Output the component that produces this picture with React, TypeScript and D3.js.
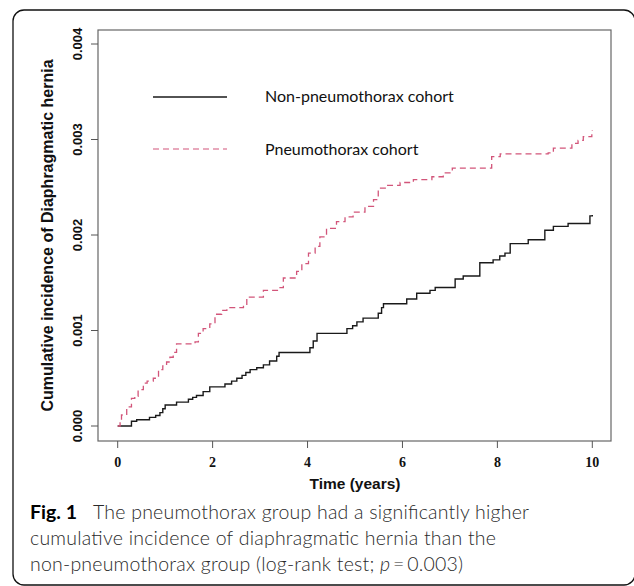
import * as d3 from "d3";
import { useEffect, useMemo, useRef } from "react";

const WIDTH = 634;
const HEIGHT = 586;
// plot box (px in the page)
const BOX = { left: 98, right: 611, top: 30, bottom: 441 };

// Kaplan-Meier style cumulative incidence
const nonTimes = [
  0, 0.29, 0.4, 0.67, 0.8, 0.89, 0.95, 1.0, 1.24, 1.49, 1.58, 1.66, 1.8, 1.94,
  2.26, 2.4, 2.51, 2.62, 2.7, 2.79, 2.93, 3.07, 3.2, 3.35, 3.4, 4.05, 4.12, 4.2,
  4.83, 4.95, 5.04, 5.17, 5.49, 5.56, 5.6, 6.09, 6.3, 6.58, 6.69, 7.11, 7.28,
  7.63, 7.91, 8.05, 8.16, 8.27, 8.65, 9.0, 9.18, 9.49, 9.95, 10,
];
const nonValues = [
  0, 0.00005, 0.000065, 0.00009, 0.00011, 0.00014, 0.00018, 0.00022, 0.00025,
  0.00028, 0.0003, 0.00032, 0.00036, 0.00041, 0.00044, 0.00047, 0.0005,
  0.00053, 0.00056, 0.00059, 0.00061, 0.00064, 0.00068, 0.00073, 0.00077,
  0.00082, 0.00089, 0.00097, 0.00102, 0.00105, 0.00109, 0.00113, 0.00118,
  0.00124, 0.00128, 0.00133, 0.00139, 0.00142, 0.00145, 0.00154, 0.00157,
  0.00171, 0.00174, 0.00178, 0.00181, 0.00191, 0.00195, 0.00205, 0.00209,
  0.00212, 0.0022, 0.00221,
];

const pneuTimes = [
  0, 0.05, 0.08, 0.19, 0.29, 0.36, 0.43, 0.54, 0.62, 0.75, 0.86, 0.95, 1.03,
  1.1, 1.17, 1.24, 1.63, 1.7, 1.8, 1.94, 2.05, 2.19, 2.3, 2.65, 2.72, 3.07,
  3.42, 3.49, 3.77, 3.88, 4.02, 4.16, 4.26, 4.4, 4.61, 4.79, 4.96, 5.21, 5.39,
  5.49, 5.67, 5.95, 6.23, 6.62, 6.86, 7.05, 7.88, 8.06, 9.07, 9.18, 9.57, 9.7,
  9.81, 9.99, 10,
];
const pneuValues = [
  0, 0.00005, 0.000115, 0.0002, 0.00029, 0.00031, 0.00038, 0.00045, 0.00047,
  0.0005, 0.00059, 0.00063, 0.00067, 0.00072, 0.00077, 0.00086, 0.00088,
  0.00097, 0.00102, 0.00107, 0.00117, 0.00121, 0.00124, 0.00126, 0.00135,
  0.00142, 0.00145, 0.00155, 0.00162, 0.0017, 0.00181, 0.00188, 0.00198,
  0.00207, 0.00214, 0.00219, 0.00224, 0.0023, 0.00237, 0.00249, 0.00252,
  0.00255, 0.00258, 0.00261, 0.00265, 0.0027, 0.00282, 0.00285, 0.00286,
  0.00291, 0.00296, 0.00299, 0.00303, 0.00309, 0.0031,
];

const xTicks = [0, 2, 4, 6, 8, 10];
const yTicks = [0, 0.001, 0.002, 0.003, 0.004];
const legendLabels = ["Non-pneumothorax cohort", "Pneumothorax cohort"];
const legendColors = ["#1a1a1a", "#d2557a"];

const TICK = 7;

export default function App() {
  const axisRef = useRef<SVGGElement | null>(null);

  const xScale = useMemo(
    () => d3.scaleLinear().domain([0, 10]).range([117.7, 592.3]),
    []
  );
  const yScale = useMemo(
    () => d3.scaleLinear().domain([0, 0.004]).range([426, 44]),
    []
  );

  const line = d3
    .line<[number, number]>()
    .x((d) => xScale(d[0]))
    .y((d) => yScale(d[1]))
    .curve(d3.curveStepAfter);

  const nonPath = line(nonTimes.map((t, i) => [t, nonValues[i]]));
  const pneuPath = line(pneuTimes.map((t, i) => [t, pneuValues[i]]));

  useEffect(() => {
    if (!axisRef.current) return;
    const g = d3.select(axisRef.current);
    g.selectAll("*").remove();

    // x axis (R style: ticks hang below the box)
    const xAxis = g.append("g");
    xTicks.forEach((v) => {
      xAxis
        .append("line")
        .attr("x1", xScale(v))
        .attr("x2", xScale(v))
        .attr("y1", BOX.bottom)
        .attr("y2", BOX.bottom + TICK)
        .attr("stroke", "#555");
      xAxis
        .append("text")
        .attr("x", xScale(v))
        .attr("y", 467)
        .attr("text-anchor", "middle")
        .attr("font-family", "'Liberation Serif', 'Times New Roman', serif")
        .attr("font-weight", "bold")
        .attr("font-size", 14)
        .attr("fill", "#111")
        .text(v);
    });

    // y axis, labels rotated
    const yAxis = g.append("g");
    yTicks.forEach((v) => {
      yAxis
        .append("line")
        .attr("x1", BOX.left - TICK)
        .attr("x2", BOX.left)
        .attr("y1", yScale(v))
        .attr("y2", yScale(v))
        .attr("stroke", "#555");
      yAxis
        .append("text")
        .attr("transform", `translate(77, ${yScale(v)}) rotate(-90)`)
        .attr("text-anchor", "middle")
        .attr("dominant-baseline", "central")
        .attr("font-family", "'Liberation Sans', Arial, sans-serif")
        .attr("font-weight", "bold")
        .attr("font-size", 13)
        .attr("fill", "#111")
        .text(d3.format(".3f")(v));
    });
  }, [xScale, yScale]);

  return (
    <svg
      width={WIDTH}
      height={HEIGHT}
      style={{ position: "absolute", left: 0, top: 0, background: "#fff" }}
    >
      {/* outer figure frame */}
      <rect
        x={13}
        y={10}
        width={622}
        height={575}
        rx={11}
        fill="none"
        stroke="#111"
        strokeWidth={1.3}
      />

      {/* plot box */}
      <rect
        x={BOX.left}
        y={BOX.top}
        width={BOX.right - BOX.left}
        height={BOX.bottom - BOX.top}
        fill="none"
        stroke="#666"
        strokeWidth={1.2}
      />

      <g ref={axisRef} />

      <path d={nonPath ?? ""} fill="none" stroke={legendColors[0]} strokeWidth={1.4} />
      <path
        d={pneuPath ?? ""}
        fill="none"
        stroke={legendColors[1]}
        strokeWidth={1.3}
        strokeDasharray="6,4"
      />

      {/* legend */}
      {legendLabels.map((label, i) => (
        <g key={label}>
          <line
            x1={153}
            x2={227}
            y1={97 + i * 52}
            y2={97 + i * 52}
            stroke={legendColors[i]}
            strokeWidth={i === 0 ? 1.4 : 1.2}
            strokeDasharray={i === 0 ? undefined : "6,4"}
          />
          <text
            x={265}
            y={102 + i * 53}
            fontFamily="Lato, 'Open Sans', sans-serif"
            fontSize={16}
            fill="#111"
          >
            {label}
          </text>
        </g>
      ))}

      {/* axis titles */}
      <text
        x={(xScale(0) + xScale(10)) / 2}
        y={489}
        textAnchor="middle"
        fontFamily="'Liberation Sans', Arial, sans-serif"
        fontWeight="bold"
        fontSize={15.5}
        fill="#111"
      >
        Time (years)
      </text>
      <text
        transform={`translate(47, ${(BOX.top + BOX.bottom) / 2}) rotate(-90)`}
        textAnchor="middle"
        dominantBaseline="central"
        fontFamily="'Liberation Sans', Arial, sans-serif"
        fontWeight="bold"
        fontSize={16}
        fill="#111"
      >
        Cumulative incidence of Diaphragmatic hernia
      </text>

      {/* caption */}
      <g fontFamily="Lato, 'Open Sans', sans-serif" fontSize={19.5} fill="#2a2a2a">
        <text x={30} y={519} fontWeight="bold" fill="#000" textLength={47} lengthAdjust="spacing">
          Fig. 1
        </text>
        <text x={93} y={519} fontWeight={300} textLength={436} lengthAdjust="spacing">
          The pneumothorax group had a significantly higher
        </text>
        <text x={30} y={545} fontWeight={300} textLength={466} lengthAdjust="spacing">
          cumulative incidence of diaphragmatic hernia than the
        </text>
        <text x={30} y={571} fontWeight={300} textLength={433} lengthAdjust="spacing">
          non-pneumothorax group (log-rank test; <tspan fontStyle="italic">p</tspan>
          {"\u2009=\u20090.003)"}
        </text>
      </g>
    </svg>
  );
}
